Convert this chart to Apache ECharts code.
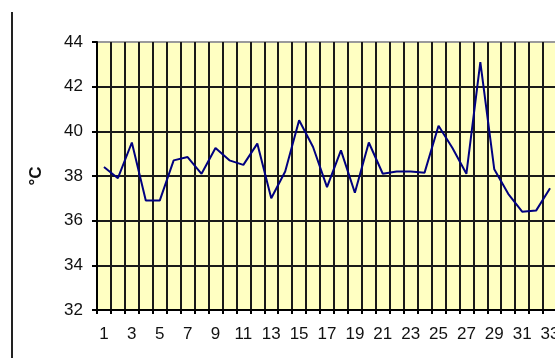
<!DOCTYPE html>
<html><head><meta charset="utf-8">
<script src="https://cdn.jsdelivr.net/npm/echarts@6/dist/echarts.min.js"></script>
<style>html,body{margin:0;padding:0;background:#fff}#c{width:555px;height:358px}</style>
</head><body><div id="c"></div>
<script>
const days = ['1','2','3','4','5','6','7','8','9','10','11','12','13','14','15','16','17','18','19','20','21','22','23','24','25','26','27','28','29','30','31','32','33'];
const temps = [38.4,37.9,39.5,36.9,36.9,38.7,38.85,38.1,39.25,38.7,38.5,39.45,37.0,38.2,40.5,39.3,37.5,39.15,37.25,39.5,38.1,38.2,38.2,38.15,40.25,39.25,38.1,43.1,38.3,37.2,36.4,36.45,37.45];
const yTicks = {min: 32, max: 44, interval: 2};
const yName = '°C';

const chart = echarts.init(document.getElementById('c'), null, {renderer: 'canvas'});
const txt = '#111';
const blk = '#1a1a1a';
chart.setOption({
  animation: false,
  grid: {left: 97, top: 42, width: 460, height: 268, show: true, backgroundColor: '#FFFFC2',
         borderColor: '#9a9a9a', borderWidth: 2,
         containLabel: false, outerBoundsMode: 'none'},
  graphic: [{type: 'line', shape: {x1: 12, y1: 12, x2: 12, y2: 358}, style: {stroke: '#222', lineWidth: 2}}],
  xAxis: {
    type: 'category', data: days, boundaryGap: true,
    axisLine: {show: true, lineStyle: {color: '#000', width: 2}},
    axisTick: {show: true, interval: 0, length: 4, lineStyle: {color: '#000', width: 2}},
    axisLabel: {interval: 1, color: txt, fontFamily: 'Liberation Sans', fontSize: 17, margin: 16},
    splitLine: {show: true, interval: 0, lineStyle: {color: blk, width: 2}}
  },
  yAxis: {
    type: 'value', min: yTicks.min, max: yTicks.max, interval: yTicks.interval,
    name: yName, nameLocation: 'middle', nameRotate: 90, nameGap: 52,
    nameTextStyle: {color: txt, fontFamily: 'Liberation Sans', fontSize: 17, fontWeight: 'bold'},
    axisLine: {show: true, lineStyle: {color: '#000', width: 2}},
    axisTick: {show: true, length: 5, lineStyle: {color: '#000', width: 2}},
    axisLabel: {color: txt, fontFamily: 'Liberation Sans', fontSize: 17, margin: 14},
    splitLine: {show: true, lineStyle: {color: ['rgba(0,0,0,0)', blk, blk, blk, blk, blk, 'rgba(0,0,0,0)'], width: 2}}
  },
  series: [{
    type: 'line', data: temps, symbol: 'none',
    lineStyle: {color: '#000080', width: 2}
  }]
});
</script></body></html>
